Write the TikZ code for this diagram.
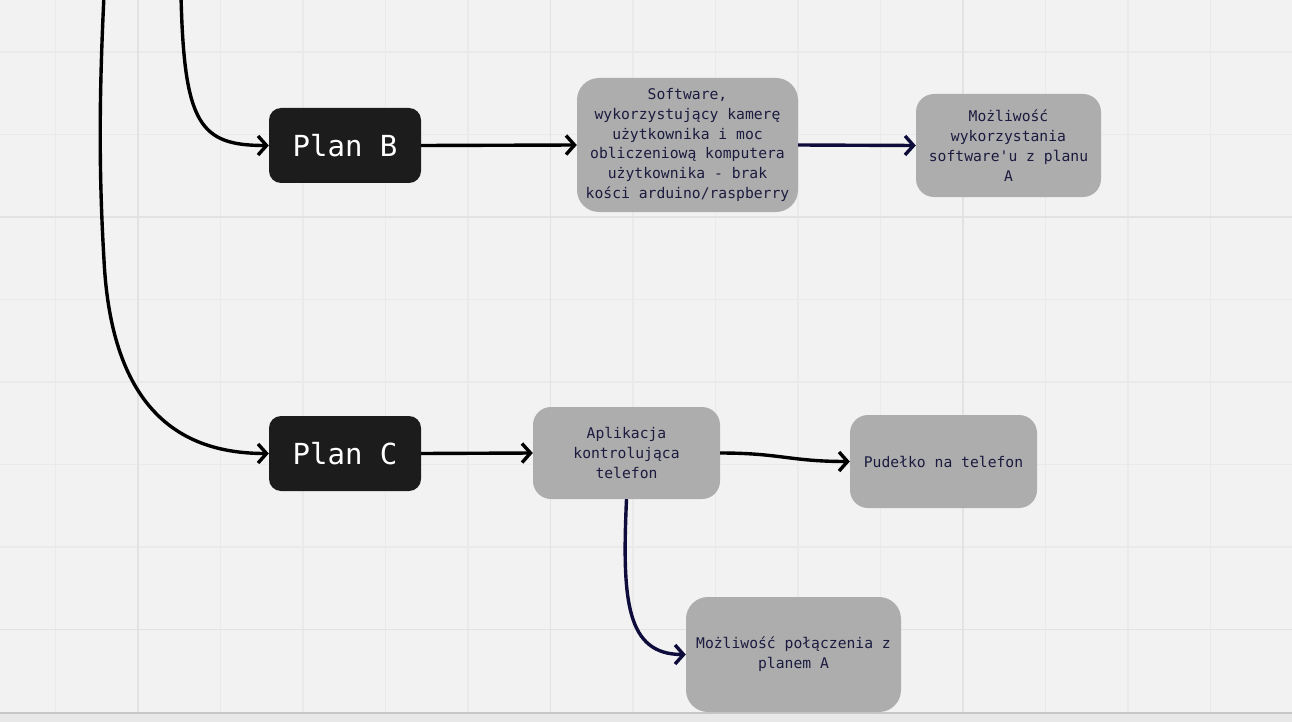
\documentclass[tikz,border=0pt]{standalone}
\usepackage{fontspec}
\newfontfamily\monofont{DejaVu Sans Mono}
\usetikzlibrary{arrows.meta}
\definecolor{bgc}{HTML}{F2F2F2}
\definecolor{gridminor}{HTML}{EAEAEA}
\definecolor{gridmajor}{HTML}{E2E2E2}
\definecolor{boxgray}{HTML}{ADADAD}
\definecolor{planbg}{HTML}{1C1C1C}
\definecolor{navy}{HTML}{1B1B40}
\definecolor{navyline}{HTML}{0E0C3A}
\tikzset{
  planbox/.style={fill=planbg, rounded corners=12pt, minimum width=152pt, minimum height=75pt,
    text=white, font=\monofont\fontsize{29}{34}\selectfont, inner sep=0pt},
  graybox/.style={fill=boxgray, text=navy, align=center, inner sep=0pt,
    font=\monofont\fontsize{14.7}{19.8}\selectfont},
  conn/.style={line width=3.4pt, -{Straight Barb[length=8.5pt,width=19pt,line width=3.4pt]}},
}
\begin{document}
\begin{tikzpicture}[x=1pt,y=-1pt]
\useasboundingbox (0,0) rectangle (1292,722);
\fill[bgc] (0,0) rectangle (1292,722);
% grid
\foreach \gx in {55.5,220.5,303,385.5,468,633,715.5,798,880.5,1045.5,1128,1210.5}
  \draw[gridminor, line width=1.2pt] (\gx,0) -- (\gx,722);
\foreach \gy in {52,134.5,299.5,382,464.5,547}
  \draw[gridminor, line width=1.2pt] (0,\gy) -- (1292,\gy);
\foreach \gx in {138,550.5,963}
  \draw[gridmajor, line width=1.6pt] (\gx,0) -- (\gx,722);
\foreach \gy in {217,629.5}
  \draw[gridmajor, line width=1.6pt] (0,\gy) -- (1292,\gy);
% bottom strip
\fill[black!9] (0,713) rectangle (1292,722);
\draw[black!22, line width=1.5pt] (0,713) -- (1292,713);

% nodes
\node[planbox] (planb) at (345,145.5) {Plan B};
\node[planbox] (planc) at (345,453.5) {Plan C};
\node[graybox, rounded corners=22pt, minimum width=221pt, minimum height=134pt] (soft) at (687.5,145)
  {Software,\\wykorzystujący kamerę\\użytkownika i moc\\obliczeniową komputera\\użytkownika - brak\\kości arduino/raspberry};
\node[graybox, rounded corners=18pt, minimum width=185pt, minimum height=103pt] (mozl) at (1008.5,145.5)
  {Możliwość\\wykorzystania\\software'u z planu\\A};
\node[graybox, rounded corners=18pt, minimum width=187pt, minimum height=92pt] (apl) at (626.5,453)
  {Aplikacja\\kontrolująca\\telefon};
\node[graybox, rounded corners=18pt, minimum width=187pt, minimum height=93pt] (pud) at (943.5,461.5)
  {Pudełko na telefon};
\node[graybox, rounded corners=22pt, minimum width=215pt, minimum height=115pt] (pol) at (793.5,654.5)
  {Możliwość połączenia z\\planem A};

% free ends
\coordinate (topb) at (181,-5);
\coordinate (topc) at (104,-5);

% connectors
\draw[conn, black] (topb) .. controls (184,125) and (200,145.5) .. (planb.west);
\draw[conn, black] (topc) .. controls (100,80) and (98,160) .. (104,260)
  .. controls (112,420) and (190,453.5) .. (planc.west);
\draw[conn, black] (planb.east) -- (soft.west);
\draw[conn, navyline] (soft.east) -- (mozl.west);
\draw[conn, black] (planc.east) -- (apl.west);
\draw[conn, black] (apl.east) .. controls (780,453) and (790,461.5) .. (pud.west);
\draw[conn, navyline] (apl.south) .. controls (622,600) and (626,654.5) .. (pol.west);
\end{tikzpicture}
\end{document}
